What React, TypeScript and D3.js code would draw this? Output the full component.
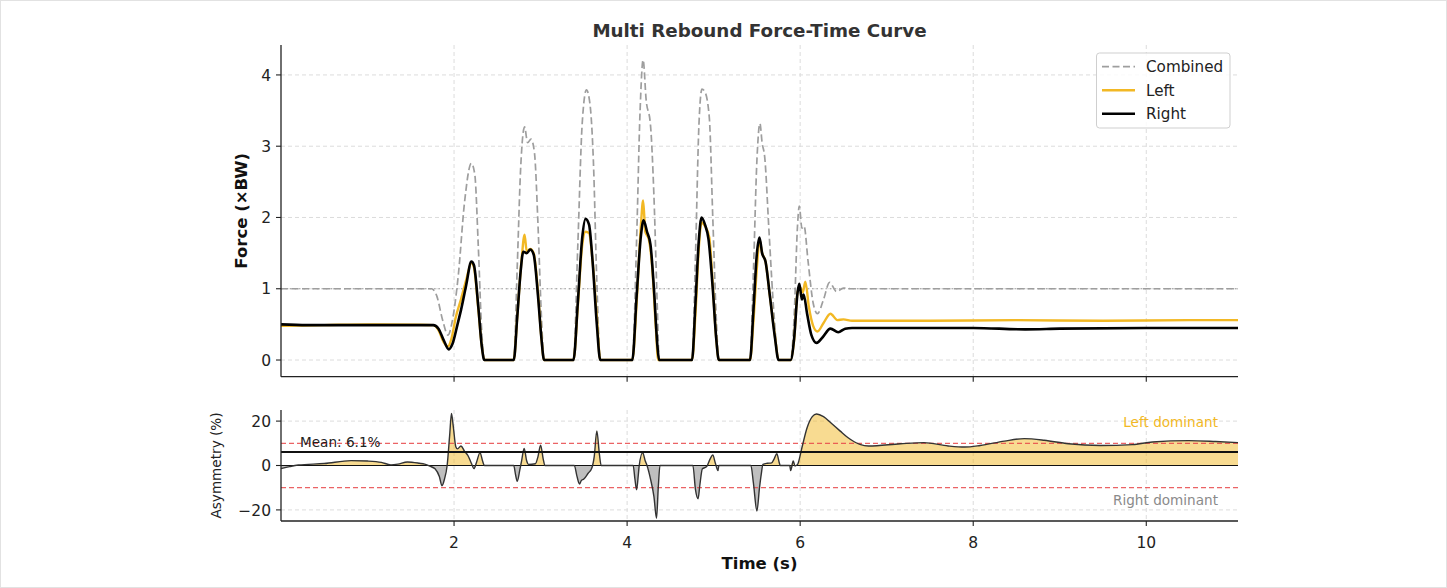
import React from "react";
import * as d3 from "d3";

// ---- data ----
const xTicks = [2, 4, 6, 8, 10];
const forceTicks = [0, 1, 2, 3, 4];
const asymTicks = [-20, 0, 20];
const meanAsym = 6.1;
const asymLimit = 10;

// [time (s), force (xBW)]
const combinedForce: [number, number][] = [
  [0, 1.0], [1.74, 1.0], [1.8, 0.9], [1.87, 0.55], [1.93, 0.35], [1.98, 0.55], [2.05, 1.2], [2.12, 2.2],
  [2.2, 2.76], [2.24, 2.6], [2.28, 1.6], [2.32, 0.4], [2.35, 0], [2.69, 0], [2.73, 1.3], [2.77, 2.7],
  [2.815, 3.27], [2.85, 3.05], [2.89, 3.1], [2.93, 2.9], [2.97, 1.9], [3.01, 0.6], [3.04, 0],
  [3.38, 0], [3.43, 1.6], [3.48, 3.3], [3.53, 3.79], [3.57, 3.6], [3.61, 2.8], [3.65, 1.1], [3.69, 0],
  [4.06, 0], [4.11, 1.7], [4.15, 3.5], [4.185, 4.21], [4.22, 3.65], [4.27, 3.3], [4.31, 2.3], [4.35, 0.7], [4.37, 0],
  [4.75, 0], [4.79, 1.45], [4.83, 3.3], [4.865, 3.8], [4.9, 3.76], [4.95, 3.4], [4.99, 2.0], [5.03, 0.6], [5.06, 0],
  [5.42, 0], [5.46, 1.25], [5.5, 2.8], [5.535, 3.32], [5.56, 3.05], [5.59, 2.85], [5.64, 1.8], [5.7, 0.6], [5.75, 0],
  [5.89, 0], [5.93, 0.6], [5.97, 1.9], [5.99, 2.16], [6.02, 1.85], [6.045, 1.88], [6.09, 1.4], [6.15, 0.8],
  [6.2, 0.65], [6.27, 0.85], [6.34, 1.09], [6.42, 0.96], [6.5, 1.01], [6.6, 1.0], [11.06, 1.0],
];

const leftForce: [number, number][] = [
  [0, 0.48], [0.5, 0.49], [1.0, 0.5], [1.6, 0.495], [1.76, 0.49], [1.82, 0.42], [1.88, 0.25], [1.93, 0.19],
  [1.97, 0.3], [2.02, 0.6], [2.08, 0.85], [2.14, 1.12], [2.2, 1.36], [2.23, 1.3], [2.28, 0.72], [2.32, 0.2], [2.35, 0],
  [2.69, 0], [2.73, 0.6], [2.78, 1.4], [2.815, 1.76], [2.84, 1.52], [2.88, 1.56], [2.92, 1.5], [2.97, 0.95], [3.01, 0.3], [3.04, 0],
  [3.38, 0], [3.43, 0.75], [3.48, 1.6], [3.52, 1.8], [3.56, 1.78], [3.6, 1.4], [3.65, 0.6], [3.69, 0],
  [4.06, 0], [4.11, 0.8], [4.16, 1.9], [4.185, 2.24], [4.21, 1.8], [4.25, 1.7], [4.29, 1.3], [4.33, 0.5], [4.36, 0],
  [4.75, 0], [4.79, 0.65], [4.83, 1.6], [4.86, 1.93], [4.9, 1.88], [4.95, 1.72], [4.99, 1.05], [5.03, 0.3], [5.06, 0],
  [5.42, 0], [5.46, 0.55], [5.5, 1.3], [5.53, 1.68], [5.56, 1.5], [5.6, 1.38], [5.65, 0.9], [5.71, 0.32], [5.75, 0],
  [5.89, 0], [5.93, 0.28], [5.97, 0.95], [6.0, 1.02], [6.03, 0.95], [6.06, 1.1], [6.1, 0.75], [6.15, 0.48],
  [6.2, 0.4], [6.27, 0.52], [6.35, 0.65], [6.43, 0.56], [6.5, 0.57], [6.6, 0.55], [7.5, 0.55], [8.5, 0.56],
  [9.5, 0.55], [10.5, 0.56], [11.06, 0.56],
];

const rightForce: [number, number][] = [
  [0, 0.5], [0.3, 0.49], [1.0, 0.49], [1.6, 0.49], [1.76, 0.49], [1.82, 0.44], [1.88, 0.28], [1.94, 0.15],
  [1.98, 0.22], [2.04, 0.5], [2.08, 0.7], [2.14, 1.05], [2.2, 1.38], [2.23, 1.33], [2.28, 0.75], [2.32, 0.2], [2.35, 0],
  [2.69, 0], [2.73, 0.6], [2.77, 1.25], [2.8, 1.52], [2.84, 1.5], [2.88, 1.55], [2.92, 1.48], [2.97, 0.9], [3.01, 0.3], [3.04, 0],
  [3.38, 0], [3.43, 0.8], [3.48, 1.7], [3.52, 1.98], [3.56, 1.9], [3.6, 1.4], [3.65, 0.5], [3.69, 0],
  [4.06, 0], [4.11, 0.9], [4.16, 1.75], [4.19, 1.96], [4.23, 1.8], [4.27, 1.62], [4.31, 1.0], [4.35, 0.2], [4.37, 0],
  [4.75, 0], [4.79, 0.8], [4.83, 1.7], [4.86, 2.0], [4.9, 1.9], [4.94, 1.7], [4.99, 1.0], [5.03, 0.3], [5.06, 0],
  [5.42, 0], [5.46, 0.7], [5.5, 1.5], [5.53, 1.72], [5.56, 1.5], [5.6, 1.38], [5.65, 0.9], [5.71, 0.3], [5.75, 0],
  [5.89, 0], [5.93, 0.3], [5.97, 0.95], [5.99, 1.07], [6.02, 0.85], [6.04, 0.92], [6.08, 0.65], [6.13, 0.35],
  [6.19, 0.24], [6.26, 0.32], [6.35, 0.44], [6.44, 0.39], [6.52, 0.44], [6.6, 0.45], [7.0, 0.45], [8.0, 0.45],
  [8.6, 0.43], [9.0, 0.44], [10.0, 0.45], [11.06, 0.45],
];

// [time (s), asymmetry (%)]
const asymmetry: [number, number][] = [
  [0, -1.4], [0.1, -0.5], [0.2, 0.2], [0.5, 0.9], [0.81, 2.2], [1.0, 2.0], [1.16, 1.4], [1.27, 0.3], [1.35, 0.6],
  [1.46, 1.6], [1.6, 1.0], [1.66, 0.6], [1.72, -0.3], [1.78, -1.5], [1.83, -5], [1.86, -9.1], [1.89, -6], [1.92, 0],
  [1.95, 14], [1.97, 23.5], [1.99, 18], [2.02, 8.5], [2.04, 7.5], [2.08, 8.8], [2.12, 6.5], [2.16, 4.5], [2.2, 1.0],
  [2.23, -1.4], [2.26, 1.5], [2.3, 5.8], [2.33, 2], [2.35, 0], [2.69, 0], [2.71, -4], [2.73, -7.1], [2.76, -2],
  [2.78, 2], [2.81, 7.7], [2.84, 2], [2.86, 0.5], [2.94, 0.8], [2.97, 4], [3.0, 9.2], [3.03, 3], [3.05, 0],
  [3.39, 0], [3.42, -4.8], [3.45, -8.3], [3.47, -6.8], [3.5, -6.1], [3.55, -3.5], [3.59, -1.4], [3.62, 4],
  [3.65, 15.6], [3.68, 5], [3.7, 0], [4.07, 0], [4.09, -6], [4.11, -10.9], [4.13, -4], [4.14, 0], [4.18, 5.8],
  [4.21, 2], [4.23, 0], [4.27, -6], [4.31, -14], [4.34, -23.8], [4.36, -10], [4.38, 0], [4.76, 0], [4.79, -10.9],
  [4.82, -15], [4.84, -9], [4.87, -1.5], [4.92, -0.5], [4.96, 3], [4.99, 4.7], [5.02, 1], [5.05, -2.3], [5.06, 0],
  [5.43, 0], [5.46, -8], [5.5, -20.5], [5.53, -10], [5.55, -4], [5.57, 0.5], [5.62, 1], [5.67, 1.2], [5.7, 3],
  [5.73, 5.3], [5.76, 1], [5.77, 0], [5.88, 0], [5.89, -2.3], [5.92, 2], [5.94, -0.2], [5.97, 0.5], [6.02, 8],
  [6.08, 17], [6.14, 22], [6.19, 23.2], [6.27, 22], [6.36, 19], [6.46, 15.6], [6.55, 12.6], [6.69, 9.5],
  [6.79, 8.8], [7.16, 9.8], [7.43, 10.3], [7.71, 8.8], [7.9, 8.3], [8.08, 9], [8.36, 11], [8.59, 12.1],
  [8.82, 11.4], [9.1, 9.8], [9.47, 9], [9.84, 9.4], [10.07, 10.6], [10.49, 11.2], [10.8, 10.8], [11.06, 10.3],
];

const W = 1447;
const H = 588;
const FONT = "DejaVu Sans";
const GOLD = "#F2B824";
const GRID = "#dcdcdc";
const RED = "#e8484a";

export default function App() {
  const x = d3.scaleLinear().domain([0, 11.06]).range([281, 1238]);
  const yF = d3.scaleLinear().domain([-0.234, 4.42]).range([376.7, 45]);
  const yA = d3.scaleLinear().domain([-25, 25]).range([521, 410]);

  const lineF = d3.line<[number, number]>()
    .x(d => x(d[0]))
    .y(d => yF(d[1]))
    .curve(d3.curveMonotoneX);
  const lineA = d3.line<[number, number]>()
    .x(d => x(d[0]))
    .y(d => yA(d[1]))
    .curve(d3.curveMonotoneX);
  const posArea = d3.area<[number, number]>()
    .x(d => x(d[0]))
    .y0(yA(0))
    .y1(d => yA(Math.max(0, d[1])))
    .curve(d3.curveMonotoneX);
  const negArea = d3.area<[number, number]>()
    .x(d => x(d[0]))
    .y0(yA(0))
    .y1(d => yA(Math.min(0, d[1])))
    .curve(d3.curveMonotoneX);

  const [x0, x1] = x.range();
  const fmt = (v: number) => (v < 0 ? "\u2212" + Math.abs(v) : String(v));

  const legendItems = [
    { label: "Combined", color: "#9e9e9e", dash: "7,3.5", w: 1.7 },
    { label: "Left", color: GOLD, dash: undefined, w: 2.4 },
    { label: "Right", color: "#000", dash: undefined, w: 2.6 },
  ];

  return (
    <svg width={W} height={H} style={{ position: "absolute", left: 0, top: 0, background: "#fff" }} fontFamily={FONT}>
      <rect x={0.5} y={0.5} width={W - 1} height={H - 1} fill="none" stroke="#e2e2e2" />
      <text x={(x0 + x1) / 2} y={37} textAnchor="middle" fontSize={18.3} fontWeight="bold" fill="#333">
        Multi Rebound Force-Time Curve
      </text>

      {/* ---------- force panel ---------- */}
      <g>
        {xTicks.map(t => (
          <line key={"fvx" + t} x1={x(t)} x2={x(t)} y1={yF.range()[1]} y2={yF.range()[0]} stroke={GRID} strokeDasharray="4,3" />
        ))}
        {forceTicks.map(t => (
          <line key={"fhy" + t} x1={x0} x2={x1} y1={yF(t)} y2={yF(t)} stroke={GRID} strokeDasharray="4,3" />
        ))}
        <line x1={x0} x2={x1} y1={yF(1)} y2={yF(1)} stroke="#9a9a9a" strokeWidth={1.1} strokeDasharray="1.5,3" />
        <path d={lineF(combinedForce) || ""} fill="none" stroke="#9e9e9e" strokeWidth={1.7} strokeDasharray="7,3.5" />
        <path d={lineF(leftForce) || ""} fill="none" stroke={GOLD} strokeWidth={2.4} strokeLinejoin="round" />
        <path d={lineF(rightForce) || ""} fill="none" stroke="#000" strokeWidth={2.6} strokeLinejoin="round" />

        <line x1={x0} x2={x0} y1={yF.range()[1]} y2={yF.range()[0]} stroke="#222" strokeWidth={1.3} />
        <line x1={x0} x2={x1} y1={yF.range()[0]} y2={yF.range()[0]} stroke="#222" strokeWidth={1.3} />
        {forceTicks.map(t => (
          <g key={"fty" + t}>
            <line x1={x0 - 5} x2={x0} y1={yF(t)} y2={yF(t)} stroke="#222" strokeWidth={1.1} />
            <text x={x0 - 10} y={yF(t) + 5.6} textAnchor="end" fontSize={15.5} fill="#222">{fmt(t)}</text>
          </g>
        ))}
        {xTicks.map(t => (
          <line key={"ftx" + t} x1={x(t)} x2={x(t)} y1={yF.range()[0]} y2={yF.range()[0] + 5} stroke="#222" strokeWidth={1.1} />
        ))}
        <text transform={`translate(247,${(yF.range()[0] + yF.range()[1]) / 2}) rotate(-90)`} textAnchor="middle"
          fontSize={16.5} fontWeight="bold" fill="#111">Force (×BW)</text>

        <rect x={1096.5} y={53} width={133.5} height={75} rx={3} fill="#fff" fillOpacity={0.85} stroke="#cfcfcf" />
        {legendItems.map((it, i) => {
          const cy = 66.7 + i * 23.5;
          return (
            <g key={it.label}>
              <line x1={1102} x2={1135} y1={cy} y2={cy} stroke={it.color} strokeWidth={it.w} strokeDasharray={it.dash} />
              <text x={1146} y={cy + 5.4} fontSize={15.2} fill="#222">{it.label}</text>
            </g>
          );
        })}
      </g>

      {/* ---------- asymmetry panel ---------- */}
      <g>
        {xTicks.map(t => (
          <line key={"avx" + t} x1={x(t)} x2={x(t)} y1={yA.range()[1]} y2={yA.range()[0]} stroke={GRID} strokeDasharray="4,3" />
        ))}
        {asymTicks.map(t => (
          <line key={"ahy" + t} x1={x0} x2={x1} y1={yA(t)} y2={yA(t)} stroke={GRID} strokeDasharray="4,3" />
        ))}
        <path d={posArea(asymmetry) || ""} fill={GOLD} fillOpacity={0.5} />
        <path d={negArea(asymmetry) || ""} fill="#808080" fillOpacity={0.5} />
        <line x1={x0} x2={x1} y1={yA(asymLimit)} y2={yA(asymLimit)} stroke={RED} strokeOpacity={0.85} strokeWidth={1.3} strokeDasharray="5,3" />
        <line x1={x0} x2={x1} y1={yA(-asymLimit)} y2={yA(-asymLimit)} stroke={RED} strokeOpacity={0.85} strokeWidth={1.3} strokeDasharray="5,3" />
        <line x1={x0} x2={x1} y1={yA(0)} y2={yA(0)} stroke="#111" strokeWidth={1.1} />
        <path d={lineA(asymmetry) || ""} fill="none" stroke="#333" strokeWidth={1.4} />
        <line x1={x0} x2={x1} y1={yA(meanAsym)} y2={yA(meanAsym)} stroke="#111" strokeWidth={2} />
        <text x={x(0.22)} y={yA(meanAsym) - 4.6} fontSize={13.6} fill="#222">{`Mean: ${meanAsym}%`}</text>
        <text x={1218} y={427} textAnchor="end" fontSize={13.6} fill={GOLD}>Left dominant</text>
        <text x={1218} y={505} textAnchor="end" fontSize={13.6} fill="#8a8a8a">Right dominant</text>

        <line x1={x0} x2={x0} y1={yA.range()[1]} y2={yA.range()[0]} stroke="#222" strokeWidth={1.3} />
        <line x1={x0} x2={x1} y1={yA.range()[0]} y2={yA.range()[0]} stroke="#222" strokeWidth={1.3} />
        {asymTicks.map(t => (
          <g key={"aty" + t}>
            <line x1={x0 - 5} x2={x0} y1={yA(t)} y2={yA(t)} stroke="#222" strokeWidth={1.1} />
            <text x={x0 - 10} y={yA(t) + 5.6} textAnchor="end" fontSize={15.5} fill="#222">{fmt(t)}</text>
          </g>
        ))}
        {xTicks.map(t => (
          <g key={"atx" + t}>
            <line x1={x(t)} x2={x(t)} y1={yA.range()[0]} y2={yA.range()[0] + 5} stroke="#222" strokeWidth={1.1} />
            <text x={x(t)} y={547.5} textAnchor="middle" fontSize={15.5} fill="#222">{fmt(t)}</text>
          </g>
        ))}
        <text transform={`translate(221,${(yA.range()[0] + yA.range()[1]) / 2}) rotate(-90)`} textAnchor="middle"
          fontSize={13.6} fill="#222">Asymmetry (%)</text>
        <text x={(x0 + x1) / 2} y={569} textAnchor="middle" fontSize={16.5} fontWeight="bold" fill="#111">Time (s)</text>
      </g>
    </svg>
  );
}
